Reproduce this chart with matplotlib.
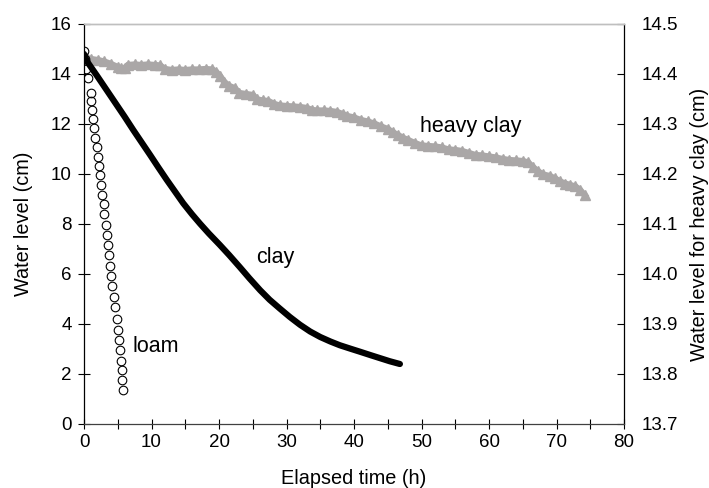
import matplotlib
matplotlib.use("Agg")
import matplotlib.pyplot as plt
from matplotlib.ticker import MultipleLocator

plt.rcParams['font.family'] = ['Liberation Sans', 'DejaVu Sans']

# ---------------- data ----------------
loam_t = [0.0, 0.15, 0.25, 0.64, 1.04, 1.1, 1.2, 1.4, 1.5, 1.7, 1.9, 2.1, 2.2, 2.4, 2.5,
          2.7, 2.9, 3.0, 3.2, 3.4, 3.5, 3.7, 3.8, 4.0, 4.2, 4.4, 4.6, 4.9, 5.0, 5.2,
          5.4, 5.45, 5.6, 5.7, 5.8]
loam_h = [14.93, 14.59, 14.19, 13.83, 13.23, 12.94, 12.57, 12.20, 11.83, 11.44, 11.07,
          10.70, 10.31, 9.95, 9.57, 9.17, 8.81, 8.41, 7.97, 7.57, 7.15, 6.75, 6.31,
          5.91, 5.51, 5.08, 4.67, 4.21, 3.78, 3.38, 2.98, 2.54, 2.17, 1.75, 1.36]

clay_t = [0.0, 0.3, 0.64, 2.0, 4.35, 6.0, 7.3, 8.5, 9.8, 11.0, 12.25, 13.5, 14.7, 16.0,
          17.2, 18.5, 20.1, 21.5, 23.1, 24.5, 26.1, 27.5, 29.0, 30.5, 32.0, 33.5, 35.0,
          36.5, 37.9, 39.5, 40.9, 42.5, 43.9, 45.3, 46.8]
clay_h = [14.80, 14.60, 14.43, 13.90, 12.96, 12.30, 11.76, 11.28, 10.76, 10.27, 9.77,
          9.29, 8.83, 8.39, 8.01, 7.62, 7.17, 6.76, 6.27, 5.83, 5.35, 4.97, 4.62, 4.28,
          3.97, 3.70, 3.48, 3.30, 3.15, 3.01, 2.89, 2.75, 2.63, 2.51, 2.40]

heavy_t = [0.0, 0.5, 1.0, 2.0, 3.0, 4.0, 5.0, 5.5, 6.0, 6.5, 7.5, 8.5, 9.5, 10.5, 11.3,
           12.0, 13.0, 14.0, 15.0, 16.0, 17.0, 18.0, 19.0, 19.6, 20.2, 20.8, 21.5, 22.3,
           23.0, 24.0, 25.0, 25.7, 26.5, 27.3, 28.2, 29.0, 30.0, 31.0, 32.0, 33.0, 33.8,
           34.5, 35.5, 36.5, 37.5, 38.3, 39.0, 40.0, 41.0, 42.0, 43.0, 44.0, 45.0, 45.8,
           46.5, 47.3, 48.0, 49.0, 50.0, 51.0, 52.0, 53.0, 54.0, 55.0, 56.0, 57.0, 58.0,
           59.0, 60.0, 61.0, 62.0, 63.0, 64.0, 65.0, 65.8, 66.5, 67.2, 68.0, 69.0, 69.8,
           70.5, 71.3, 72.0, 72.8, 73.5, 74.2]
heavy_h = [14.433, 14.432, 14.430, 14.428, 14.425, 14.420, 14.414, 14.411, 14.412, 14.418,
           14.419, 14.418, 14.419, 14.418, 14.417, 14.410, 14.408, 14.409, 14.408, 14.409,
           14.409, 14.410, 14.409, 14.404, 14.395, 14.384, 14.376, 14.372, 14.362, 14.360,
           14.358, 14.349, 14.347, 14.346, 14.340, 14.337, 14.336, 14.335, 14.334, 14.332,
           14.328, 14.327, 14.327, 14.326, 14.324, 14.320, 14.316, 14.313, 14.308, 14.305,
           14.301, 14.295, 14.290, 14.283, 14.278, 14.272, 14.268, 14.262, 14.257, 14.256,
           14.255, 14.253, 14.249, 14.248, 14.246, 14.242, 14.238, 14.237, 14.235, 14.233,
           14.230, 14.228, 14.227, 14.226, 14.223, 14.214, 14.206, 14.199, 14.196, 14.191,
           14.185, 14.181, 14.178, 14.175, 14.168, 14.157]

x_ticks = [0, 10, 20, 30, 40, 50, 60, 70, 80]
y_ticks = [0, 2, 4, 6, 8, 10, 12, 14, 16]
y2_ticks = [13.7, 13.8, 13.9, 14.0, 14.1, 14.2, 14.3, 14.4, 14.5]

# ---------------- figure ----------------
fig = plt.figure(figsize=(7.09, 4.88), dpi=100)
ax = fig.add_axes([84/709, 1 - 424/488, 540/709, 400/488])
ax2 = ax.twinx()

gray = '#aaa7a7'
ax2.plot(heavy_t, heavy_h, color=gray, linewidth=4.5, solid_joinstyle='miter', zorder=1)
ax2.plot(heavy_t, heavy_h, linestyle='none', marker='^', markersize=6.5,
         color=gray, markeredgecolor=gray, zorder=1)
ax.plot(clay_t, clay_h, color='black', linewidth=4.5, solid_capstyle='round', zorder=3)
ax.plot(loam_t, loam_h, linestyle='none', marker='o', markersize=6.2,
        markerfacecolor='none', markeredgecolor='black', markeredgewidth=0.8, zorder=4)

ax.set_zorder(ax2.get_zorder() + 1)
ax.patch.set_visible(False)

ax.set_xlim(0, 80)
ax.set_ylim(0, 16)
ax2.set_ylim(13.7, 14.5)
ax.set_xticks(x_ticks)
ax.xaxis.set_minor_locator(MultipleLocator(5))
ax.set_yticks(y_ticks)
ax2.set_yticks(y2_ticks)
ax2.set_yticklabels([f"{v:.1f}" for v in y2_ticks])

fs_tick = 13.5
ax.tick_params(axis='x', which='both', direction='inout', length=7, width=0.8,
               labelsize=fs_tick, pad=4)
ax.tick_params(axis='y', direction='inout', length=8, width=0.8, labelsize=fs_tick, pad=5)
ax2.tick_params(axis='y', direction='in', length=5, width=0.8, labelsize=fs_tick, pad=13)

for a in (ax, ax2):
    a.spines['top'].set_color('#bfbfbf')
    a.spines['top'].set_linewidth(1.0)
ax.spines['right'].set_visible(False)
ax2.spines['left'].set_visible(False)
ax2.spines['bottom'].set_visible(False)
ax.spines['left'].set_linewidth(0.9)
ax.spines['bottom'].set_linewidth(0.9)
ax.spines['bottom'].set_color('#404040')
ax2.spines['right'].set_linewidth(0.9)

fs_lab = 14.3
ax.set_xlabel('Elapsed time (h)', fontsize=fs_lab, labelpad=13)
ax.set_ylabel('Water level (cm)', fontsize=fs_lab, labelpad=13)
ax2.set_ylabel('Water level for heavy clay (cm)', fontsize=fs_lab, labelpad=8)

ax.text(49.8, 11.69, 'heavy clay', fontsize=15.5, ha='left', va='baseline')
ax.text(25.5, 6.43, 'clay', fontsize=15.5, ha='left', va='baseline')
ax.text(7.2, 2.89, 'loam', fontsize=15.5, ha='left', va='baseline')

fig.savefig('out.png', dpi=100)
